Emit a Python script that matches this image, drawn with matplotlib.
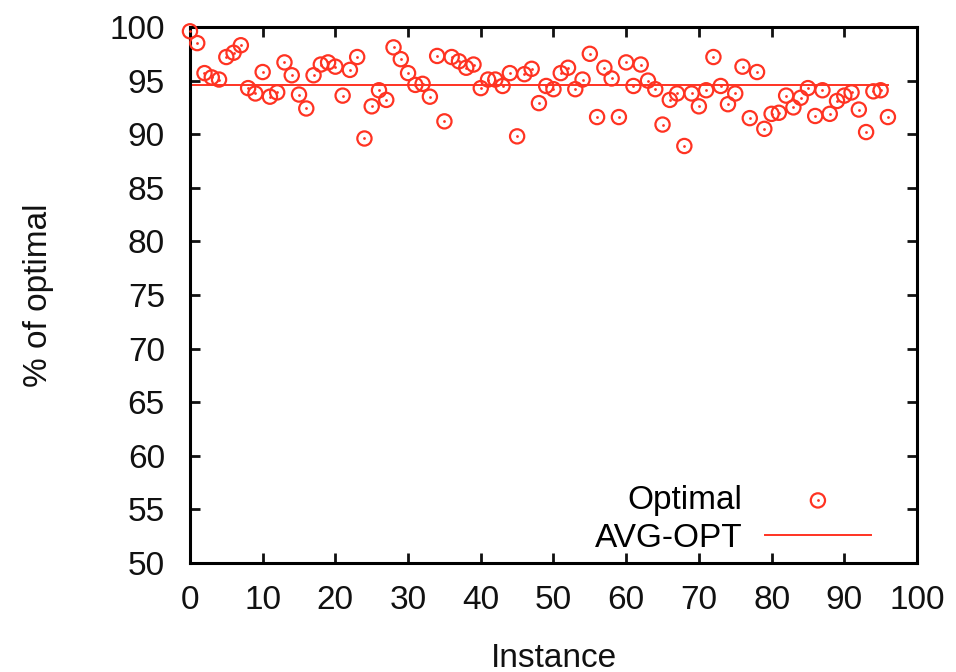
import matplotlib
matplotlib.use("Agg")
import matplotlib.pyplot as plt
from matplotlib.legend_handler import HandlerTuple

# % of optimal for each instance
instance = list(range(97))
optimal = [
    99.6, 98.5, 95.7, 95.3, 95.1, 97.2, 97.6, 98.3, 94.3, 93.8,
    95.8, 93.5, 93.9, 96.7, 95.5, 93.7, 92.4, 95.5, 96.5, 96.7,
    96.3, 93.6, 96.0, 97.2, 89.6, 92.6, 94.1, 93.2, 98.1, 97.0,
    95.7, 94.6, 94.7, 93.5, 97.3, 91.2, 97.2, 96.8, 96.2, 96.5,
    94.3, 95.1, 95.1, 94.5, 95.7, 89.8, 95.6, 96.1, 92.9, 94.5,
    94.2, 95.7, 96.2, 94.2, 95.1, 97.5, 91.6, 96.2, 95.2, 91.6,
    96.7, 94.5, 96.5, 95.0, 94.2, 90.9, 93.2, 93.8, 88.9, 93.8,
    92.6, 94.1, 97.2, 94.5, 92.8, 93.8, 96.3, 91.5, 95.8, 90.5,
    91.9, 92.0, 93.6, 92.5, 93.4, 94.3, 91.7, 94.1, 91.9, 93.1,
    93.6, 93.9, 92.3, 90.2, 94.0, 94.1, 91.6,
]
avg_opt = 94.55

red = "#ff3322"
plt.rcParams["font.family"] = ["Liberation Sans", "DejaVu Sans"]

fig = plt.figure(figsize=(9.56, 6.72), dpi=100)
ax = fig.add_axes([0.1987, 0.1622, 0.7605, 0.7976])

ring = ax.scatter(instance, optimal, s=105, facecolors="none", edgecolors=red,
                  linewidths=1.6, zorder=3, clip_on=False)
dot = ax.scatter(instance, optimal, s=4, color=red, linewidths=0, zorder=3,
                 clip_on=False)
line, = ax.plot([instance[0], instance[-1]], [avg_opt, avg_opt], color=red,
                lw=1.4, zorder=2)

ax.set_xlim(0, 100)
ax.set_ylim(50, 100)
ax.set_xticks(range(0, 101, 10))
ax.set_yticks(range(50, 101, 5))
ax.tick_params(direction="in", length=7, width=2, top=True, right=True,
               labelsize=24, colors="#111111")
ax.tick_params(axis="y", pad=18)
ax.tick_params(axis="x", pad=16)
for sp in ax.spines.values():
    sp.set_linewidth(2.2)

ax.set_xlabel("Instance", fontsize=24, labelpad=19, color="#111111")
ax.set_ylabel("% of optimal", fontsize=24, labelpad=40, color="#111111")

ax.legend([(ring, dot), line], ["Optimal", "AVG-OPT"],
          handler_map={tuple: HandlerTuple(ndivide=1, pad=0)},
          loc="lower right", bbox_to_anchor=(0.96, -0.014), frameon=False,
          markerfirst=False, fontsize=24, handlelength=3.2, handletextpad=0.66,
          labelspacing=0.2, borderpad=0)

fig.savefig("out.png", dpi=100)
